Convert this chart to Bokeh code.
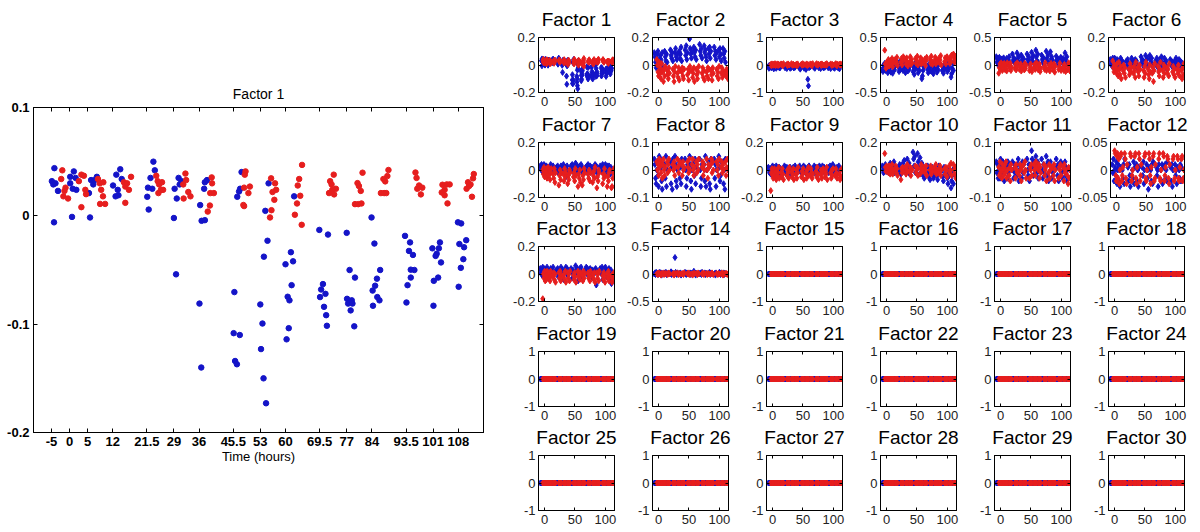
from bokeh.plotting import figure
from bokeh.models import FixedTicker, LinearAxis, Range1d, CustomJSTickFormatter, CustomLabelingPolicy
from bokeh.layouts import row, column
from bokeh.embed import file_html
from bokeh.resources import INLINE

FONT = "Liberation Sans"
BLUE = "#1414c8"
RED = "#e61e1e"

# ---------------- big panel (Factor 1) ----------------
big_title = "Factor 1"
big_xlabel = "Time (hours)"
big_xticks = [-5, 0, 5, 12, 21.5, 29, 36, 45.5, 53, 60, 69.5, 77, 84, 93.5, 101, 108]
big_yticks = [-0.2, -0.1, 0, 0.1]

big_blue_x = [-4.9, -4.2, -4.5, -3.9, -3.2, -4.3,
              0.2, 1.2, 1.7, 0.7, 0.2, 1.9, 0.9,
              5.4, 6.0, 6.6, 7.0, 5.7, 7.6,
              12.1, 12.8, 13.0, 14.1, 13.4, 13.6, 14.5,
              21.6, 21.8, 22.0, 22.5, 23.0, 23.3, 23.7,
              29.0, 29.2, 29.8, 30.3, 30.6, 31.1, 29.6,
              36.3, 36.7, 37.6, 37.4, 37.6, 38.2, 36.1, 36.6,
              46.6, 47.1, 47.4, 47.8, 45.8, 45.6, 47.3, 46.0, 46.5,
              55.3, 54.4, 55.0, 54.0, 53.0, 53.6, 53.2, 53.9, 54.6,
              62.4, 61.5, 62.1, 60.0, 61.7, 60.6, 61.1, 60.9, 60.3,
              69.4, 71.8, 70.4, 69.9, 69.6, 71.1, 70.7, 71.3, 71.5,
              77.0, 77.8, 79.3, 77.1, 77.4, 78.4, 78.6, 78.1, 79.1,
              83.9, 84.7, 86.3, 85.4, 84.9, 84.2, 85.5, 86.1, 84.3,
              93.2, 94.6, 94.3, 95.4, 94.8, 95.8, 94.8, 93.9, 93.6,
              100.8, 102.9, 102.6, 102.0, 101.7, 103.2, 101.2, 102.4, 101.1,
              107.9, 108.8, 110.2, 108.3, 109.6, 109.4, 108.7, 108.1]
big_blue_y = [0.032, 0.044, 0.029, 0.030, 0.023, -0.006,
              0.036, 0.041, 0.035, -0.001, 0.030, 0.024, 0.025,
              0.021, 0.033, 0.029, 0.033, -0.0015, 0.036,
              0.028, 0.018, 0.038, 0.043, 0.024, 0.019, 0.034,
              0.0176, 0.026, 0.0058, 0.035, 0.025, 0.050, 0.042,
              -0.002, 0.025, 0.016, 0.035, 0.029, 0.032, -0.054,
              0.0099, -0.0046, -0.004, 0.025, 0.031, 0.033, -0.081, -0.140,
              0.0176, 0.0225, 0.025, 0.0404, -0.0704, -0.1083, -0.110, -0.134, -0.137,
              0.030, 0.0046, -0.023, -0.0377, -0.0818, -0.0994, -0.123, -0.150, -0.173,
              0.018, -0.0336, -0.042, -0.0447, -0.064, -0.0747, -0.078, -0.1037, -0.114,
              -0.013, -0.0173, -0.063, -0.068, -0.075, -0.072, -0.084, -0.0917, -0.1015,
              -0.0157, -0.050, -0.057, -0.0766, -0.081, -0.078, -0.081, -0.0873, -0.102,
              -0.0015, -0.0256, -0.050, -0.058, -0.0645, -0.069, -0.075, -0.078, -0.083,
              -0.0185, -0.0245, -0.0324, -0.0361, -0.0497, -0.050, -0.057, -0.064, -0.080,
              -0.030, -0.0245, -0.030, -0.035, -0.037, -0.043, -0.060, -0.057, -0.083,
              -0.006, -0.007, -0.0225, -0.026, -0.029, -0.040, -0.048, -0.0655]
big_red_x = [-2.0, -2.3, -1.1, -1.4, -1.7, -0.4,
             3.3, 2.6, 4.0, 4.4, 3.3, 4.6,
             7.9, 8.4, 8.8, 9.4, 8.5, 9.9, 9.3,
             15.1, 15.5, 16.0, 16.5, 17.1, 15.5,
             24.1, 24.5, 24.9, 25.4, 26.0, 24.7, 25.7,
             31.6, 32.2, 31.7, 33.0, 33.6, 32.4,
             39.1, 39.0, 38.4, 39.5, 39.6, 40.1,
             48.9, 48.7, 50.1, 49.7, 48.5, 48.5, 48.3,
             56.0, 57.1, 57.4, 56.4, 56.9, 56.1, 55.7,
             64.6, 63.8, 63.4, 64.1, 63.2, 62.6, 64.5,
             73.4, 72.4, 72.8, 74.0, 73.0, 72.1, 73.5,
             81.4, 80.0, 80.4, 80.9, 79.3, 80.2, 81.1,
             88.6, 88.3, 87.2, 87.7, 86.5, 87.4, 88.0,
             96.1, 96.4, 97.1, 98.0, 96.6, 97.6,
             103.6, 104.8, 105.6, 104.2, 103.4, 104.2, 105.0,
             112.3, 112.1, 111.4, 111.0, 110.3, 110.7, 111.8]
big_red_y = [0.042, 0.034, 0.026, 0.023, 0.018, 0.016,
             0.038, 0.032, 0.037, 0.024, 0.008, 0.020,
             0.034, 0.030, 0.024, 0.031, 0.011, 0.011, 0.018,
             0.031, 0.027, 0.030, 0.024, 0.036, 0.012,
             0.037, 0.032, 0.029, 0.024, 0.024, 0.021, 0.031,
             0.029, 0.039, 0.016, 0.022, 0.018, 0.033,
             0.021, 0.0095, 0.0039, 0.0355, 0.030, 0.021,
             0.041, 0.038, 0.027, 0.021, 0.026, 0.009, 0.010,
             0.0346, 0.030, 0.024, 0.022, 0.0148, 0.0052, -0.0015,
             0.047, 0.034, 0.028, 0.0185, 0.0114, 0.001, -0.0083,
             0.038, 0.032, 0.029, 0.025, 0.024, 0.021, 0.0198,
             0.0398, 0.0302, 0.0275, 0.023, 0.0108, 0.0108, 0.0114,
             0.0423, 0.0367, 0.034, 0.0318, 0.021, 0.021, 0.021,
             0.040, 0.035, 0.028, 0.026, 0.025, 0.0198,
             0.0287, 0.029, 0.029, 0.024, 0.0216, 0.019, 0.0115,
             0.0386, 0.0346, 0.029, 0.0275, 0.025, 0.031, 0.0176]

# ---------------- small panels ----------------
times = [-5, 0, 5, 12, 21.5, 29, 36, 45.5, 53, 60, 69.5, 77, 84, 93.5, 101, 108]
blue_dx = [-2.0, -1.0, 0.0, 1.0, 2.0]
red_dx = [2.0, 3.0, 4.0, 5.0, 6.0]
small_xticks = [0, 50, 100]
small_ylims = [0.2, 0.2, 1, 0.5, 0.5, 0.2, 0.2, 0.1, 0.2, 0.2, 0.1, 0.05, 0.2, 0.5, 1,
               1, 1, 1, 1, 1, 1, 1, 1, 1, 1, 1, 1, 1, 1, 1]

f2_blue = [[0.09, 0.06, 0.02, -0.02, 0.04], [0.08, 0.10, 0.03, -0.03, 0.05], [0.07, 0.04, 0.01, 0.09, -0.02],
           [0.10, 0.06, 0.03, 0.08, 0.02], [0.11, 0.07, 0.05, 0.09, 0.03], [0.09, 0.12, 0.06, 0.04, 0.08],
           [0.10, 0.05, 0.08, 0.13, 0.03], [0.11, 0.07, 0.14, 0.04, 0.09], [0.19, 0.12, 0.08, 0.05, 0.10],
           [0.13, 0.09, 0.06, 0.11, 0.04], [0.15, 0.10, 0.07, 0.12, 0.05], [0.14, 0.09, 0.11, 0.06, 0.03],
           [0.12, 0.08, 0.13, 0.05, 0.10], [0.13, 0.07, 0.10, 0.04, 0.09], [0.11, 0.06, 0.12, 0.08, 0.03],
           [0.12, 0.08, 0.05, 0.10, 0.02]]
f2_red = [[0.04, 0.0, -0.05, -0.08, 0.02], [-0.02, -0.06, -0.10, 0.01, -0.04], [-0.05, -0.12, -0.03, -0.08, -0.01],
          [-0.04, -0.07, -0.10, -0.02, -0.06], [-0.03, -0.08, -0.12, -0.05, -0.01], [-0.06, -0.09, -0.02, -0.11, -0.04],
          [-0.05, -0.02, -0.08, -0.10, -0.03], [-0.07, -0.03, -0.11, -0.05, -0.01], [-0.04, -0.09, -0.06, -0.02, -0.12],
          [-0.03, -0.07, -0.10, -0.05, -0.01], [-0.06, -0.02, -0.09, -0.04, -0.11], [-0.05, -0.08, -0.02, -0.10, -0.03],
          [-0.04, -0.07, -0.11, -0.02, -0.06], [-0.03, -0.08, -0.05, -0.10, -0.01], [-0.06, -0.02, -0.09, -0.04, -0.07],
          [-0.05, -0.08, -0.03, -0.06, -0.10]]
f3_blue = [[-0.05, -0.12, 0.0, -0.08, -0.03], [-0.1, -0.02, -0.06, 0.01, -0.14], [-0.04, -0.09, 0.0, -0.12, -0.06],
           [-0.08, -0.02, -0.11, -0.05, 0.01], [-0.03, -0.1, -0.06, 0.0, -0.13], [-0.07, -0.02, -0.12, -0.04, -0.09],
           [-0.05, -0.11, 0.0, -0.08, -0.03], [-0.09, -0.04, -0.15, -0.01, -0.06], [-0.06, -0.12, -0.02, -0.08, -0.16],
           [-0.52, -0.76, -0.1, -0.04, -0.07], [-0.08, -0.03, -0.12, -0.05, 0.0], [-0.04, -0.1, -0.01, -0.07, -0.13],
           [-0.06, -0.02, -0.11, -0.04, -0.08], [-0.1, -0.05, 0.0, -0.08, -0.13], [-0.03, -0.09, -0.05, -0.12, 0.01],
           [-0.07, -0.02, -0.11, -0.05, -0.14]]
f3_red = [[0.02, -0.03, 0.04, 0.0, -0.01], [0.03, 0.0, 0.05, -0.02, 0.01], [0.01, 0.04, -0.02, 0.03, 0.0],
          [0.04, 0.0, 0.02, -0.03, 0.05], [0.02, -0.02, 0.04, 0.01, 0.0], [0.05, 0.01, -0.01, 0.03, 0.0],
          [0.0, 0.03, -0.03, 0.04, 0.01], [0.03, -0.01, 0.05, 0.0, 0.02], [0.01, 0.04, -0.02, 0.02, 0.0],
          [0.04, 0.0, 0.02, -0.03, 0.05], [0.02, 0.05, 0.0, -0.01, 0.03], [0.03, -0.02, 0.04, 0.01, 0.0],
          [0.0, 0.03, -0.01, 0.05, 0.02], [0.04, 0.01, -0.02, 0.02, 0.0], [0.02, 0.05, 0.0, -0.03, 0.03],
          [0.03, -0.01, 0.04, 0.0, 0.01]]
f4_blue = [[-0.08, -0.12, 0.0, -0.05, 0.03], [-0.1, -0.03, -0.07, 0.02, -0.14], [-0.06, 0.05, -0.1, -0.02, -0.13],
           [-0.15, -0.05, 0.02, -0.09, -0.01], [-0.04, -0.12, 0.06, -0.08, 0.0], [-0.1, -0.02, -0.06, 0.04, -0.14],
           [-0.05, -0.11, 0.03, -0.08, -0.01], [-0.12, -0.04, -0.17, 0.02, -0.07], [-0.06, -0.14, -0.02, -0.1, 0.04],
           [-0.25, -0.2, -0.1, -0.03, 0.02], [-0.08, -0.14, 0.01, -0.05, -0.11], [-0.12, -0.04, -0.16, 0.03, -0.07],
           [-0.06, -0.13, -0.02, -0.09, 0.05], [-0.1, -0.03, -0.15, 0.0, -0.07], [-0.05, -0.12, 0.04, -0.08, -0.02],
           [-0.22, -0.16, -0.06, 0.03, -0.1]]
f4_red = [[0.27, 0.02, -0.06, 0.05, -0.03], [0.04, 0.1, -0.02, 0.07, 0.0], [0.08, 0.02, 0.12, -0.03, 0.05],
          [0.1, 0.03, 0.06, 0.14, -0.01], [0.05, 0.12, 0.0, 0.08, 0.15], [0.09, 0.02, 0.13, 0.05, -0.02],
          [0.06, 0.15, 0.01, 0.1, 0.04], [0.12, 0.03, 0.08, 0.16, 0.0], [0.07, 0.13, 0.02, 0.1, 0.04],
          [0.05, 0.11, -0.01, 0.08, 0.14], [0.1, 0.03, 0.16, 0.06, 0.01], [0.08, 0.14, 0.02, 0.11, 0.05],
          [0.12, 0.04, 0.09, 0.17, 0.0], [0.06, 0.13, 0.02, 0.1, 0.15], [0.09, 0.03, 0.14, 0.06, 0.18],
          [0.2, 0.12, 0.05, 0.16, 0.08]]
f5_blue = [[0.15, 0.05, 0.1, 0.0, 0.12], [0.14, 0.08, 0.02, 0.11, 0.06], [0.1, 0.04, 0.13, 0.07, 0.0],
           [0.12, 0.06, 0.02, 0.09, 0.15], [0.2, 0.08, 0.13, 0.04, 0.1], [0.22, 0.12, 0.06, 0.16, 0.03],
           [0.18, 0.09, 0.14, 0.05, 0.11], [0.2, 0.1, 0.04, 0.15, 0.07], [0.23, 0.12, 0.06, 0.17, 0.02],
           [0.27, 0.15, 0.08, 0.2, 0.04], [0.18, 0.1, 0.05, 0.13, 0.0], [0.25, 0.12, 0.06, 0.18, 0.03],
           [0.24, 0.1, 0.15, 0.05, 0.08], [0.16, 0.08, 0.12, 0.02, 0.1], [0.14, 0.06, 0.1, 0.03, 0.12],
           [0.22, 0.1, 0.05, 0.15, 0.0]]
f5_red = [[-0.15, -0.05, 0.02, -0.08, 0.04], [-0.04, -0.1, 0.01, -0.06, 0.03], [-0.08, 0.0, -0.05, -0.11, 0.04],
          [-0.02, -0.07, 0.03, -0.1, -0.04], [-0.06, 0.01, -0.09, -0.03, 0.04], [-0.08, -0.02, 0.02, -0.11, -0.05],
          [-0.04, -0.09, 0.03, -0.06, 0.0], [-0.1, -0.03, 0.02, -0.07, -0.12], [-0.05, 0.01, -0.08, -0.02, 0.04],
          [-0.09, -0.04, 0.02, -0.12, -0.06], [-0.03, -0.08, 0.04, -0.05, -0.1], [-0.07, 0.0, -0.11, -0.04, 0.03],
          [-0.05, -0.09, 0.02, -0.13, -0.02], [-0.08, -0.03, 0.03, -0.06, -0.1], [-0.04, -0.1, 0.01, -0.07, -0.12],
          [-0.09, -0.02, 0.04, -0.06, -0.11]]
f6_blue = [[0.04, 0.01, 0.03, -0.01, 0.05], [0.03, 0.0, 0.05, 0.02, -0.02], [0.02, 0.04, -0.01, 0.03, 0.0],
           [0.05, 0.01, 0.03, -0.02, 0.02], [0.03, 0.0, 0.04, 0.01, -0.03], [0.02, 0.05, 0.0, 0.03, -0.01],
           [0.04, 0.01, 0.03, -0.02, 0.0], [0.06, 0.02, 0.04, 0.0, 0.03], [0.07, 0.03, 0.01, 0.05, -0.01],
           [0.07, 0.04, 0.02, 0.05, 0.0], [0.03, 0.0, 0.05, 0.02, -0.02], [0.04, 0.01, 0.06, 0.02, -0.01],
           [0.05, 0.02, 0.0, 0.03, -0.03], [0.04, 0.01, 0.03, -0.01, 0.02], [0.03, 0.0, 0.05, 0.02, -0.02],
           [0.04, 0.01, 0.03, -0.01, 0.02]]
f6_red = [[0.03, -0.02, -0.05, 0.0, -0.03], [-0.02, -0.06, 0.01, -0.04, -0.08], [0.02, -0.03, -0.07, -0.01, -0.1],
          [-0.04, 0.0, -0.06, -0.02, -0.09], [-0.03, -0.07, 0.01, -0.05, -0.02], [-0.06, -0.01, -0.04, -0.09, 0.02],
          [-0.02, -0.05, -0.08, 0.0, -0.03], [-0.04, -0.09, -0.01, -0.06, 0.02], [-0.03, -0.07, -0.1, 0.0, -0.05],
          [-0.06, -0.02, -0.12, -0.04, 0.01], [-0.01, -0.05, -0.08, -0.03, 0.02], [-0.04, -0.09, 0.0, -0.06, -0.02],
          [-0.02, -0.06, -0.03, -0.08, 0.01], [-0.05, -0.01, -0.07, -0.03, -0.09], [-0.03, -0.06, 0.0, -0.04, -0.08],
          [-0.04, -0.1, -0.02, -0.07, 0.01]]
f7_blue = [[0.03, 0.01, 0.04, -0.01, 0.02], [0.02, 0.04, 0.0, 0.03, -0.02], [0.03, 0.0, 0.02, -0.03, 0.01],
           [0.04, 0.01, -0.01, 0.02, 0.03], [0.02, 0.0, 0.03, -0.02, 0.01], [0.03, 0.01, -0.01, 0.02, 0.04],
           [0.02, -0.05, 0.0, 0.03, -0.02], [0.03, 0.0, 0.04, -0.01, 0.02], [0.05, 0.02, 0.0, 0.03, -0.02],
           [0.03, 0.01, 0.04, -0.01, 0.02], [0.02, 0.0, 0.03, -0.02, 0.04], [0.03, 0.01, -0.01, 0.02, 0.0],
           [0.02, 0.04, 0.0, 0.03, -0.02], [0.03, 0.0, 0.02, -0.01, 0.04], [0.02, 0.04, 0.0, -0.02, 0.03],
           [0.03, 0.01, -0.03, 0.02, 0.0]]
f7_red = [[0.0, -0.03, 0.02, -0.05, -0.01], [-0.02, 0.01, -0.06, -0.03, 0.02], [-0.04, 0.0, -0.07, -0.02, 0.01],
          [-0.03, -0.06, 0.01, -0.09, -0.02], [-0.11, -0.04, 0.0, -0.07, -0.02], [-0.03, -0.08, 0.01, -0.05, -0.02],
          [-0.1, -0.04, -0.07, 0.0, -0.02], [-0.05, -0.02, -0.08, 0.01, -0.04], [-0.12, -0.03, -0.06, 0.0, -0.09],
          [-0.11, -0.04, -0.07, 0.01, -0.02], [-0.03, -0.06, 0.0, -0.08, -0.02], [-0.09, -0.04, -0.01, -0.06, 0.02],
          [-0.13, -0.05, -0.08, 0.0, -0.02], [-0.1, -0.03, -0.06, 0.01, -0.04], [-0.12, -0.05, -0.08, -0.02, 0.0],
          [-0.13, -0.12, -0.06, -0.02, 0.01]]
f8_blue = [[0.04, 0.02, -0.03, -0.05, 0.0], [0.03, -0.02, -0.06, 0.05, 0.01], [0.04, 0.01, -0.04, -0.07, 0.02],
           [0.02, -0.03, 0.05, -0.06, 0.0], [0.03, -0.05, 0.01, -0.07, 0.04], [0.05, 0.02, -0.04, -0.06, 0.0],
           [0.03, -0.03, 0.01, -0.05, 0.04], [0.04, 0.0, -0.06, -0.03, 0.02], [0.05, 0.02, -0.04, -0.07, 0.0],
           [0.03, -0.02, 0.04, -0.05, 0.01], [0.04, 0.0, -0.06, -0.03, 0.02], [0.02, -0.04, 0.05, -0.06, 0.0],
           [0.03, 0.01, -0.05, -0.07, 0.04], [0.04, -0.03, 0.02, -0.06, 0.0], [0.05, 0.01, -0.04, -0.02, 0.03],
           [0.03, -0.05, 0.0, -0.07, 0.04]]
f8_red = [[0.03, 0.0, 0.02, -0.02, 0.04], [0.01, 0.03, -0.01, 0.02, -0.03], [0.02, 0.04, 0.0, -0.02, 0.01],
          [0.03, -0.01, 0.02, 0.04, 0.0], [0.02, 0.0, 0.03, -0.02, 0.01], [0.04, 0.01, -0.01, 0.02, 0.03],
          [0.02, -0.02, 0.03, 0.0, 0.01], [0.03, 0.01, -0.01, 0.04, 0.0], [0.02, 0.04, 0.0, -0.02, 0.01],
          [0.03, -0.01, 0.02, 0.0, 0.04], [0.01, 0.03, -0.02, 0.02, 0.0], [0.04, 0.0, -0.03, 0.02, 0.01],
          [0.02, 0.04, -0.01, 0.03, 0.0], [0.03, 0.0, 0.02, -0.02, 0.04], [0.01, 0.03, -0.01, 0.02, 0.0],
          [0.03, -0.02, 0.01, 0.04, 0.0]]
f9_blue = [[0.02, 0.0, -0.02, 0.01, -0.03], [0.01, -0.01, 0.03, -0.02, 0.0], [0.02, -0.02, 0.0, 0.03, -0.01],
           [0.0, 0.02, -0.03, 0.01, -0.01], [0.03, 0.0, -0.02, 0.01, 0.02], [0.01, -0.01, 0.02, -0.03, 0.0],
           [0.02, 0.0, -0.02, 0.03, -0.01], [0.01, 0.03, -0.01, 0.0, -0.02], [0.03, 0.0, 0.02, -0.02, 0.01],
           [0.02, -0.01, 0.03, 0.0, -0.02], [0.01, 0.03, -0.02, 0.0, 0.02], [0.02, 0.0, 0.03, -0.01, -0.03],
           [0.03, 0.01, -0.01, 0.02, 0.0], [0.02, -0.02, 0.0, 0.03, 0.01], [0.04, 0.01, -0.01, 0.02, 0.0],
           [0.02, 0.0, -0.02, 0.03, -0.01]]
f9_red = [[-0.15, -0.02, 0.01, -0.04, -0.06], [-0.03, 0.01, -0.05, -0.01, -0.07], [0.0, -0.04, -0.02, 0.02, -0.06],
          [-0.02, -0.05, 0.01, -0.03, -0.07], [-0.04, 0.0, -0.02, -0.06, 0.02], [-0.01, -0.05, -0.03, 0.01, -0.07],
          [-0.03, 0.0, -0.06, -0.02, 0.02], [-0.05, -0.01, -0.03, 0.01, -0.07], [-0.02, -0.06, 0.0, -0.04, 0.02],
          [-0.04, 0.01, -0.02, -0.06, -0.03], [-0.01, -0.05, 0.02, -0.03, -0.07], [-0.03, 0.0, -0.06, -0.02, 0.01],
          [-0.05, -0.01, -0.03, 0.02, -0.07], [-0.02, -0.06, 0.0, -0.04, 0.01], [-0.04, 0.01, -0.02, -0.06, -0.03],
          [-0.03, -0.07, 0.0, -0.05, 0.01]]
f10_blue = [[0.03, 0.0, -0.02, 0.02, -0.01], [0.04, 0.01, -0.01, 0.02, 0.0], [0.02, -0.02, 0.01, 0.05, -0.01],
            [0.03, 0.0, 0.06, -0.02, 0.01], [0.02, -0.01, 0.04, 0.0, -0.03], [0.05, 0.02, 0.07, -0.01, 0.0],
            [0.08, 0.03, 0.0, 0.05, -0.03], [0.13, 0.08, 0.03, 0.1, -0.02], [0.12, 0.06, 0.02, -0.03, 0.09],
            [0.05, 0.0, -0.04, 0.02, -0.06], [0.03, -0.02, -0.05, 0.01, -0.07], [0.02, -0.03, -0.06, 0.0, -0.04],
            [0.01, -0.04, -0.07, -0.02, 0.03], [0.0, -0.05, -0.08, 0.02, -0.03], [-0.02, -0.06, -0.1, 0.01, -0.04],
            [-0.13, -0.08, -0.04, 0.0, -0.1]]
f10_red = [[0.12, 0.02, -0.01, 0.03, 0.0], [0.01, -0.02, 0.03, 0.0, -0.03], [0.02, -0.01, 0.04, -0.03, 0.0],
           [0.0, 0.03, -0.02, 0.01, -0.04], [-0.07, 0.01, -0.02, 0.02, -0.01], [0.02, -0.03, 0.0, 0.04, -0.01],
           [-0.01, 0.02, -0.04, 0.01, 0.0], [0.03, -0.02, 0.0, 0.02, -0.04], [-0.03, 0.01, 0.04, -0.01, 0.0],
           [0.02, -0.02, 0.0, 0.03, -0.04], [0.0, 0.03, -0.03, 0.01, -0.01], [0.02, -0.01, 0.04, -0.03, 0.0],
           [-0.02, 0.01, 0.03, -0.04, 0.0], [0.01, -0.03, 0.02, 0.0, -0.05], [0.03, -0.02, 0.0, 0.05, -0.04],
           [0.04, 0.0, -0.03, 0.02, -0.06]]
f11_blue = [[0.03, -0.01, 0.02, -0.03, 0.0], [0.02, -0.03, 0.04, -0.01, 0.01], [-0.02, 0.03, 0.0, -0.04, 0.02],
            [0.01, -0.03, 0.03, -0.01, 0.02], [0.03, 0.0, -0.03, 0.02, -0.01], [-0.02, 0.02, 0.04, -0.04, 0.0],
            [0.01, -0.03, 0.03, -0.01, 0.02], [0.04, 0.0, -0.02, 0.02, -0.04], [0.07, 0.04, 0.01, -0.02, 0.03],
            [0.05, 0.02, -0.01, 0.03, -0.03], [0.04, 0.0, -0.03, 0.02, -0.01], [0.05, 0.02, -0.02, 0.03, -0.04],
            [0.03, 0.0, -0.03, 0.01, -0.01], [0.04, 0.01, -0.02, 0.02, -0.04], [0.03, -0.01, 0.02, -0.03, 0.0],
            [0.03, -0.02, 0.01, -0.04, 0.0]]
f11_red = [[0.01, -0.02, 0.03, -0.01, 0.0], [-0.03, 0.02, 0.0, -0.02, 0.01], [0.02, -0.01, 0.03, -0.03, 0.0],
           [-0.02, 0.01, -0.04, 0.02, 0.0], [0.01, -0.03, 0.02, 0.0, -0.01], [-0.02, 0.02, 0.0, -0.04, 0.01],
           [0.02, -0.01, 0.03, 0.0, -0.03], [-0.03, 0.01, 0.0, 0.02, -0.02], [0.02, 0.0, -0.02, 0.03, 0.01],
           [0.0, 0.02, -0.03, 0.01, -0.01], [0.02, -0.02, 0.0, 0.01, -0.04], [-0.01, 0.02, -0.03, 0.0, 0.01],
           [0.01, -0.02, 0.02, -0.04, 0.0], [-0.03, 0.01, 0.0, 0.02, -0.02], [0.01, -0.04, 0.02, -0.01, 0.0],
           [-0.02, -0.05, 0.01, -0.03, 0.0]]
f12_blue = [[0.01, -0.005, 0.02, -0.02, 0.0], [0.005, -0.01, 0.015, -0.025, 0.0], [0.01, -0.02, 0.0, -0.03, 0.005],
            [0.0, -0.015, 0.01, -0.025, 0.02], [0.005, -0.02, 0.01, -0.01, -0.03], [0.0, -0.015, 0.015, -0.025, 0.005],
            [0.01, -0.02, 0.0, -0.03, 0.005], [0.005, -0.01, 0.015, -0.025, 0.0], [0.01, -0.015, 0.0, -0.035, 0.005],
            [0.0, -0.02, 0.01, -0.025, 0.015], [0.005, -0.01, 0.0, -0.03, 0.01], [0.0, -0.02, 0.01, -0.025, 0.005],
            [0.01, -0.015, 0.0, -0.02, 0.015], [0.005, -0.02, 0.01, -0.03, 0.0], [0.01, -0.01, 0.0, -0.025, 0.005],
            [0.0, -0.015, 0.01, -0.02, 0.005]]
f12_red = [[0.035, 0.03, -0.01, -0.02, 0.025], [0.03, -0.015, 0.02, -0.025, 0.0], [0.025, 0.03, -0.02, -0.01, 0.005],
           [0.03, 0.02, -0.015, -0.025, 0.01], [0.03, 0.025, -0.02, -0.01, 0.0], [0.025, 0.03, -0.015, -0.025, 0.005],
           [0.03, 0.02, -0.02, -0.01, 0.01], [0.025, 0.03, -0.015, -0.02, 0.0], [0.03, 0.02, -0.01, -0.025, 0.005],
           [0.025, 0.03, -0.02, -0.015, 0.01], [0.02, 0.03, -0.015, -0.02, 0.0], [0.03, 0.025, -0.02, -0.01, 0.005],
           [0.025, 0.02, -0.015, -0.025, 0.01], [0.02, 0.025, -0.02, -0.015, 0.0], [0.025, 0.02, -0.015, -0.02, 0.005],
           [0.02, 0.025, -0.02, -0.015, 0.0]]
f13_blue = [[0.04, 0.01, 0.03, -0.01, 0.05], [0.02, 0.04, 0.0, 0.03, -0.02], [0.03, 0.05, 0.01, -0.03, 0.02],
            [0.04, 0.02, 0.0, 0.03, 0.05], [0.03, 0.01, 0.04, -0.02, 0.02], [0.05, 0.02, 0.0, 0.03, -0.04],
            [0.03, 0.05, 0.01, 0.04, -0.01], [0.04, 0.02, -0.03, 0.03, 0.0], [0.06, 0.03, 0.01, 0.04, -0.05],
            [0.04, 0.02, 0.05, 0.0, -0.02], [0.03, 0.05, 0.01, 0.04, -0.01], [0.04, 0.02, 0.0, 0.03, -0.03],
            [0.03, 0.01, 0.04, -0.08, 0.02], [0.04, 0.02, 0.0, 0.05, -0.04], [0.03, 0.05, 0.01, -0.02, 0.02],
            [0.04, 0.01, -0.05, 0.03, -0.07]]
f13_red = [[-0.18, 0.0, -0.03, 0.02, -0.05], [-0.01, -0.04, 0.02, -0.02, 0.0], [0.01, -0.03, -0.05, 0.02, -0.01],
           [-0.02, 0.01, -0.04, 0.0, -0.06], [0.01, -0.03, 0.02, -0.05, -0.01], [-0.02, 0.0, -0.04, 0.02, -0.06],
           [0.01, -0.03, 0.0, -0.05, 0.02], [-0.01, -0.04, 0.01, -0.02, -0.06], [0.02, -0.02, 0.0, -0.04, 0.01],
           [-0.01, -0.05, 0.02, -0.03, 0.0], [0.01, -0.03, -0.01, -0.05, 0.02], [-0.02, 0.0, -0.04, 0.01, -0.06],
           [0.01, -0.03, 0.0, -0.05, 0.02], [-0.01, -0.04, 0.01, -0.02, -0.06], [0.0, -0.03, 0.02, -0.05, -0.01],
           [-0.02, -0.06, 0.0, -0.04, 0.01]]
f14_blue = [[0.0, 0.02, -0.01, 0.03, 0.0], [0.01, -0.01, 0.02, 0.0, 0.03], [0.0, 0.02, -0.02, 0.01, 0.0],
            [0.02, 0.0, 0.03, -0.01, 0.01], [0.0, 0.04, -0.01, 0.02, 0.0], [0.3, 0.03, 0.0, -0.01, 0.02],
            [0.01, 0.0, 0.02, -0.02, 0.0], [0.03, 0.0, -0.01, 0.02, 0.01], [0.0, 0.02, -0.01, 0.01, 0.0],
            [0.05, 0.02, 0.0, -0.02, 0.01], [0.01, 0.0, 0.02, -0.01, 0.03], [0.0, 0.02, -0.01, 0.01, 0.0],
            [0.02, 0.0, 0.03, -0.01, 0.01], [0.0, 0.01, -0.02, 0.02, 0.0], [0.01, 0.03, 0.0, -0.01, 0.02],
            [0.0, 0.02, -0.01, 0.01, 0.0]]
f14_red = [[0.0, 0.01, -0.01, 0.02, 0.0], [0.01, 0.0, -0.02, 0.01, 0.0], [0.0, 0.02, -0.01, 0.0, 0.01],
           [0.01, -0.01, 0.0, 0.02, 0.0], [0.0, 0.01, -0.02, 0.0, 0.01], [0.02, 0.0, -0.01, 0.01, 0.0],
           [0.0, 0.01, 0.0, -0.01, 0.02], [0.01, 0.0, 0.02, -0.01, 0.0], [0.0, -0.02, 0.01, 0.0, 0.01],
           [0.01, 0.0, -0.01, 0.02, 0.0], [0.0, 0.02, 0.0, -0.01, 0.01], [0.01, -0.01, 0.0, 0.01, 0.0],
           [0.0, 0.01, 0.02, 0.0, -0.01], [0.01, 0.0, -0.01, 0.01, 0.0], [0.0, 0.02, 0.0, -0.02, 0.01],
           [0.01, 0.0, 0.01, -0.01, 0.0]]
# Factors 15-30: every score sits on zero
flat_group = [0.0, 0.0, 0.0, 0.0, 0.0]

small_series = {
    2: (f2_blue, f2_red), 3: (f3_blue, f3_red), 4: (f4_blue, f4_red), 5: (f5_blue, f5_red),
    6: (f6_blue, f6_red), 7: (f7_blue, f7_red), 8: (f8_blue, f8_red), 9: (f9_blue, f9_red),
    10: (f10_blue, f10_red), 11: (f11_blue, f11_red), 12: (f12_blue, f12_red), 13: (f13_blue, f13_red),
    14: (f14_blue, f14_red),
}

fmt_code = "return String(tick)"


def flatten(groups, dx):
    xs, ys = [], []
    for t, g in zip(times, groups):
        for d, v in zip(dx, g):
            xs.append(t + d)
            ys.append(v)
    return xs, ys


def style_axis(ax, ticks, size, bold, color, show_labels=True, standoff=4, tick_len=4):
    ax.ticker = FixedTicker(ticks=ticks)
    ax.formatter = CustomJSTickFormatter(code=fmt_code)
    ax.major_tick_in = tick_len
    ax.major_tick_out = 0
    ax.minor_tick_line_color = None
    ax.axis_line_color = "black"
    ax.major_tick_line_color = "black"
    ax.major_label_text_font = FONT
    ax.major_label_text_font_style = "bold" if bold else "normal"
    ax.major_label_text_color = color
    if show_labels:
        ax.major_label_text_font_size = size
        ax.major_label_standoff = standoff
    else:
        ax.major_label_text_font_size = "0px"
        ax.major_label_standoff = 0
        ax.major_label_policy = CustomLabelingPolicy(code="return []")


def title_axis(ticks, text, size, standoff, tick_len):
    # mirrored top axis whose axis label carries the panel title
    ax = LinearAxis()
    style_axis(ax, ticks, size, False, "black", show_labels=False, tick_len=tick_len)
    ax.axis_label = text
    ax.axis_label_text_font = FONT
    ax.axis_label_text_font_size = size
    ax.axis_label_text_font_style = "normal"
    ax.axis_label_text_color = "black"
    ax.axis_label_standoff = standoff
    return ax


# ---- big figure
big = figure(width=504, height=530, x_range=Range1d(-10, 115), y_range=Range1d(-0.2, 0.1),
             min_border_left=33, min_border_right=21, min_border_top=107, min_border_bottom=98,
             toolbar_location=None, output_backend="svg")
style_axis(big.xaxis[0], big_xticks, "13px", True, "black", standoff=4)
style_axis(big.yaxis[0], big_yticks, "13px", True, "black", standoff=4)
big.xaxis.axis_label = big_xlabel
big.xaxis.axis_label_text_font = FONT
big.xaxis.axis_label_text_font_size = "13px"
big.xaxis.axis_label_text_font_style = "normal"
big.xaxis.axis_label_text_color = "black"
big.xaxis.axis_label_standoff = 0
big.add_layout(title_axis(big_xticks, big_title, "14px", 6, 4), "above")
right_ax = LinearAxis()
style_axis(right_ax, big_yticks, "13px", True, "black", show_labels=False)
big.add_layout(right_ax, "right")
big.grid.visible = False
big.outline_line_color = "black"
big.scatter(big_blue_x, big_blue_y, size=5.5, color=BLUE, marker="circle")
big.scatter(big_red_x, big_red_y, size=5.5, color=RED, marker="circle")

# ---- small figures
row_tops = [37, 32, 32, 32, 32]
row_bottoms = [18, 17, 18, 17, 20]
figs = []
for idx in range(30):
    n = idx + 1
    r = idx // 6
    top = row_tops[r]
    bottom = row_bottoms[r]
    h = top + 55 + bottom
    lim = small_ylims[idx]
    p = figure(width=114, height=h, x_range=Range1d(-10, 115), y_range=Range1d(-lim, lim),
               min_border_left=34, min_border_right=4, min_border_top=top,
               min_border_bottom=bottom, toolbar_location=None, output_backend="svg")
    yt = [-lim, 0, lim]
    style_axis(p.xaxis[0], small_xticks, "13px", False, "#222222", standoff=4, tick_len=3)
    style_axis(p.yaxis[0], yt, "13px", False, "#222222", standoff=3, tick_len=3)
    p.add_layout(title_axis(small_xticks, "Factor %d" % n, "19px", 8, 3), "above")
    ax_right = LinearAxis()
    style_axis(ax_right, yt, "13px", False, "#222222", show_labels=False, tick_len=3)
    p.add_layout(ax_right, "right")
    p.grid.visible = False
    p.outline_line_color = "black"
    if n == 1:
        bx, by, rx, ry = big_blue_x, big_blue_y, big_red_x, big_red_y
    elif n in small_series:
        bgroups, rgroups = small_series[n]
        bx, by = flatten(bgroups, blue_dx)
        rx, ry = flatten(rgroups, red_dx)
    else:
        bx, by = flatten([flat_group] * len(times), blue_dx)
        rx, ry = flatten([flat_group] * len(times), red_dx)
    p.scatter(bx, by, size=6, color=BLUE, marker="diamond")
    p.scatter(rx, ry, size=6, color=RED, marker="diamond")
    figs.append(p)

grid = column(*[row(*figs[r * 6:(r + 1) * 6]) for r in range(5)])
layout = row(big, grid)

open("out.html", "w").write(file_html(layout, INLINE))
